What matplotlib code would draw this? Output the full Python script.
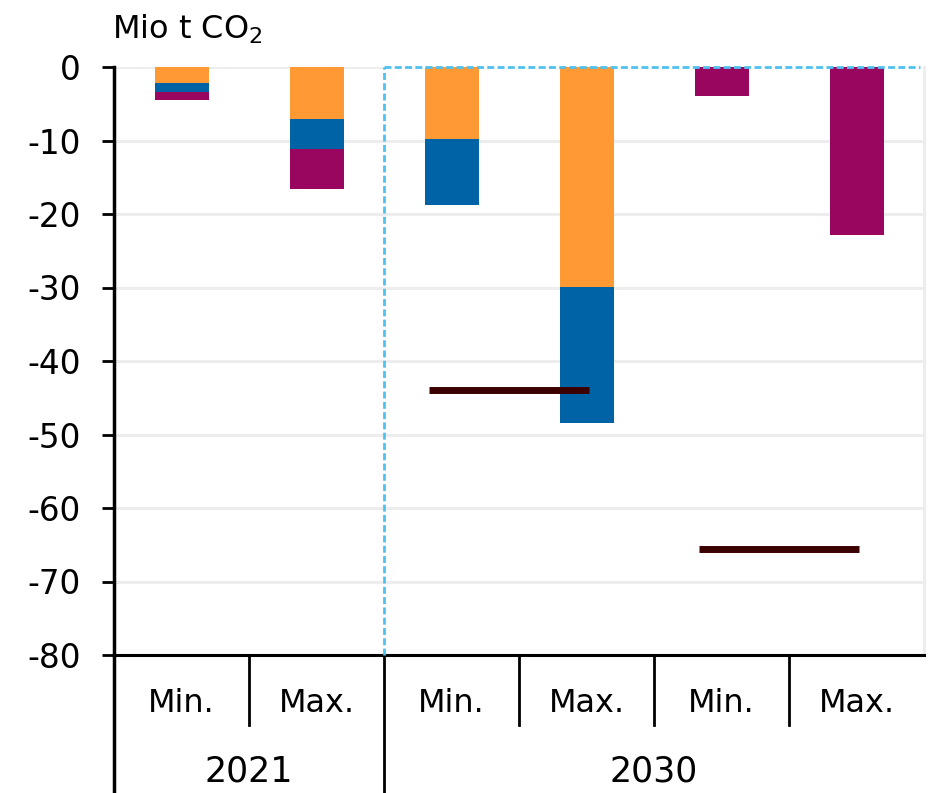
import matplotlib
matplotlib.use("Agg")
import matplotlib.pyplot as plt
import numpy as np

# data
categories = ["Min.", "Max.", "Min.", "Max.", "Min.", "Max."]
years = ["2021", "2030"]
year_span = [(0, 1), (2, 5)]  # first / last category index per year
orange_vals = [-2.2, -7.1, -9.8, -29.9, 0.0, 0.0]
blue_vals = [-1.25, -4.1, -9.0, -18.6, 0.0, 0.0]
purple_vals = [-1.05, -5.4, 0.0, 0.0, -4.0, -22.8]
ref_vals = [-44.0, -65.6]
ref_span = [(2, 3), (4, 5)]
yticks = [0, -10, -20, -30, -40, -50, -60, -70, -80]

c_orange = "#FF9933"
c_blue = "#0063A5"
c_purple = "#990660"
c_line = "#3B0000"
c_dash = "#4FC1F0"
c_grid = "#EDEDED"

plt.rcParams['font.family'] = ['DejaVu Sans']

W, H = 932, 793
fig = plt.figure(figsize=(W / 100, H / 100), dpi=100)
x0, x1, ytop, ybot = 114, 924, 67, 655
ax = fig.add_axes([x0 / W, 1 - ybot / H, (x1 - x0) / W, (ybot - ytop) / H])

x = np.arange(len(categories))
bw = 0.4
o = np.array(orange_vals)
b = np.array(blue_vals)
p = np.array(purple_vals)
ax.bar(x, o, bw, color=c_orange, zorder=3)
ax.bar(x, b, bw, bottom=o, color=c_blue, zorder=3)
ax.bar(x, p, bw, bottom=o + b, color=c_purple, zorder=3)

for val, (i, j) in zip(ref_vals, ref_span):
    ax.plot([x[i] - 0.17, x[j] + 0.02], [val, val], color=c_line, lw=5,
            solid_capstyle="butt", zorder=4)

ax.set_xlim(-0.5, len(categories) - 0.5)
ax.set_ylim(-80, 0)
ax.set_yticks(yticks)
ax.set_yticklabels([str(v) for v in yticks], fontsize=23.5)
ax.tick_params(axis="y", length=9, width=2, pad=15, direction="out")
ax.set_xticks([])
for v in yticks[1:-1]:
    ax.axhline(v, color=c_grid, lw=2.2, zorder=1)
ax.axhline(0, xmin=0, xmax=2 / 6, color=c_grid, lw=2.2, zorder=1)

ax.spines["top"].set_visible(False)
ax.spines["right"].set_color(c_grid)
ax.spines["right"].set_linewidth(2.2)
ax.spines["left"].set_linewidth(2.5)
ax.spines["bottom"].set_linewidth(2.2)

# dashed frame around 2030
ax.plot([1.5, 1.5], [-80, 0], color=c_dash, lw=2, ls=(0, (2.5, 1.2)), zorder=5, clip_on=False)
ax.plot([1.5, 5.47], [0, 0], color=c_dash, lw=2, ls=(0, (2.5, 1.2)), zorder=5, clip_on=False)

# two-level category axis below
tr = ax.get_xaxis_transform()
ah = ybot - ytop
minor_d = -70 / ah
major_d = -140 / ah
for i, lab in enumerate(categories):
    ax.text(x[i], -48 / ah, lab, transform=tr, ha="center", va="center", fontsize=23)
for k in range(len(categories) - 1):
    bnd = x[k] + 0.5
    major = any(bnd == year_span[g][0] - 0.5 for g in range(len(years)))
    ax.plot([bnd, bnd], [0, major_d if major else minor_d], transform=tr,
            color="black", lw=2, clip_on=False)
ax.plot([-0.5, -0.5], [0, major_d], transform=tr, color="black", lw=2.5, clip_on=False)
for g, lab in enumerate(years):
    i, j = year_span[g]
    ax.text((x[i] + x[j]) / 2, -117 / ah, lab, transform=tr, ha="center", va="center", fontsize=25)

fig.text(112 / W, 1 - 39 / H, r"Mio t CO$_{\mathregular{2}}$", fontsize=23, ha="left", va="baseline")

fig.savefig("out.png", dpi=100)
